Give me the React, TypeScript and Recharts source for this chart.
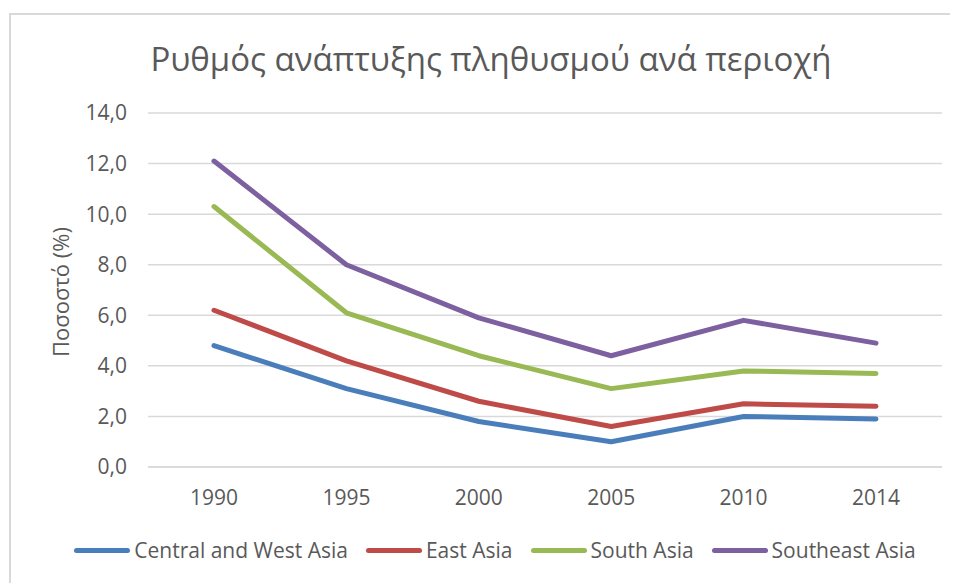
import React from 'react';
import { LineChart, Line, XAxis, YAxis, CartesianGrid, Legend, Label } from 'recharts';

const years = ['1990', '1995', '2000', '2005', '2010', '2014'];
const centralWestAsia = [4.8, 3.1, 1.8, 1.0, 2.0, 1.9];
const eastAsia = [6.2, 4.2, 2.6, 1.6, 2.5, 2.4];
const southAsia = [10.3, 6.1, 4.4, 3.1, 3.8, 3.7];
const southeastAsia = [12.1, 8.0, 5.9, 4.4, 5.8, 4.9];
const yTicks = [0, 2, 4, 6, 8, 10, 12, 14];

const seriesNames = ['Central and West Asia', 'East Asia', 'South Asia', 'Southeast Asia'];
const title = 'Ρυθμός ανάπτυξης πληθυσμού ανά περιοχή';
const yLabel = 'Ποσοστό (%)';

const data = years.map((y, i) => ({
  year: y,
  cwa: centralWestAsia[i],
  ea: eastAsia[i],
  sa: southAsia[i],
  sea: southeastAsia[i],
}));

const FONT = '"Open Sans", sans-serif';
const TEXT = '#595959';

const renderLegend = (props: any) => {
  const { payload } = props;
  return (
    <div style={{ display: 'flex', justifyContent: 'center', alignItems: 'center', fontFamily: FONT, fontSize: 21, color: TEXT, whiteSpace: 'nowrap' }}>
      {payload.map((p: any, i: number) => (
        <div key={i} style={{ display: 'flex', alignItems: 'center', marginRight: i < payload.length - 1 ? 18 : 0 }}>
          <div style={{ width: 56, height: 5, borderRadius: 3, background: p.color, marginRight: 4 }} />
          <span>{p.value}</span>
        </div>
      ))}
    </div>
  );
};

const YLabelContent = (props: any) => {
  const { viewBox } = props;
  const cy = viewBox.y + viewBox.height / 2 + 2;
  const cx = 52;
  return (
    <text x={cx} y={cy} transform={`rotate(-90, ${cx}, ${cy})`} textAnchor="middle" dominantBaseline="central" fill={TEXT} fontFamily={FONT} fontSize={22}>
      {yLabel}
    </text>
  );
};

export default function App() {
  return (
    <div style={{ position: 'relative', marginLeft: 1, marginTop: 5, width: 949, height: 570, boxSizing: 'border-box', overflow: 'hidden', background: '#fff' }}>
      <style>{'html, body { overflow: hidden; }'}</style>
      <div style={{ position: 'absolute', left: 0, top: 0, width: 2, height: 570, background: '#d9d9d9' }} />
      <div style={{ position: 'absolute', left: 0, top: 0, width: 949, height: 2, background: '#d9d9d9' }} />
      <div style={{ position: 'absolute', left: -1, top: 23, width: 966, textAlign: 'center', fontFamily: FONT, fontSize: 33, color: TEXT, whiteSpace: 'nowrap' }}>
        {title}
      </div>
      <div style={{ position: 'absolute', left: -1, top: -5 }}>
        <LineChart width={950} height={575} data={data} margin={{ top: 105, right: 16, bottom: 76, left: 0 }}>
          <CartesianGrid horizontal vertical={false} stroke="#d9d9d9" strokeWidth={1.5} />
          <XAxis
            dataKey="year"
            height={40}
            padding={{ left: 66, right: 66 }}
            axisLine={{ stroke: '#d9d9d9', strokeWidth: 1.5 }}
            tickLine={false}
            tickSize={6}
            tickMargin={17}
            tick={{ fill: TEXT, fontSize: 21, fontFamily: FONT }}
          />
          <YAxis
            width={140}
            domain={[0, 14]}
            ticks={yTicks}
            interval={0}
            axisLine={false}
            tickLine={false}
            tickSize={6}
            tickMargin={15}
            tickFormatter={(v: number) => v.toFixed(1).replace('.', ',')}
            tick={{ fill: TEXT, fontSize: 21, fontFamily: FONT }}
          >
            <Label content={<YLabelContent />} />
          </YAxis>
          <Legend
            layout="horizontal"
            verticalAlign="middle"
            align="center"
            content={renderLegend}
            wrapperStyle={{ position: 'absolute', top: 528, left: 12, width: 950, height: 30 }}
          />
          <Line dataKey="cwa" name={seriesNames[0]} stroke="#4a7ebb" strokeWidth={5} dot={false} strokeLinecap="round" strokeLinejoin="round" isAnimationActive={false} />
          <Line dataKey="ea" name={seriesNames[1]} stroke="#be4b48" strokeWidth={5} dot={false} strokeLinecap="round" strokeLinejoin="round" isAnimationActive={false} />
          <Line dataKey="sa" name={seriesNames[2]} stroke="#98b954" strokeWidth={5} dot={false} strokeLinecap="round" strokeLinejoin="round" isAnimationActive={false} />
          <Line dataKey="sea" name={seriesNames[3]} stroke="#7d60a0" strokeWidth={5} dot={false} strokeLinecap="round" strokeLinejoin="round" isAnimationActive={false} />
        </LineChart>
      </div>
    </div>
  );
}
